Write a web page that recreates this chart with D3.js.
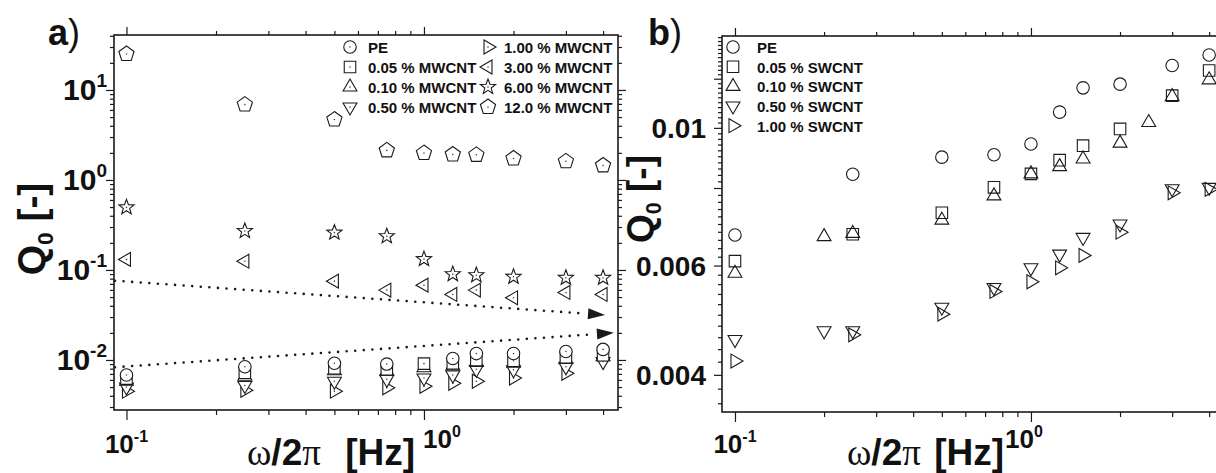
<!DOCTYPE html>
<html><head><meta charset="utf-8">
<script src="https://cdn.jsdelivr.net/npm/d3@7"></script>
<style>
html,body{margin:0;padding:0;background:#fff;}
svg{display:block;}
text{font-family:"Liberation Sans",Arial,sans-serif;font-weight:bold;fill:#111;}
.serif{font-family:"Liberation Serif","Times New Roman",serif;font-weight:normal;}
.reg{font-weight:normal;}
</style></head><body>
<svg id="chart" width="1216" height="473"></svg>
<script>
// ---------------- DATA ----------------
// Panel a) : PE / MWCNT composites
const freqA = [0.1, 0.25, 0.5, 0.75, 1, 1.25, 1.5, 2, 3, 4];
const namesA = ["PE", "0.05 % MWCNT", "0.10 % MWCNT", "0.50 % MWCNT",
                "1.00 % MWCNT", "3.00 % MWCNT", "6.00 % MWCNT", "12.0 % MWCNT"];
const peA      = [0.0068, 0.0084, 0.0092, 0.0090, null,   0.0104, 0.0118, 0.0118, 0.0124, 0.0131];
const mw005    = [0.0062, 0.0072, 0.0081, 0.0079, 0.0091, 0.0092, 0.0100, 0.0098, 0.0107, 0.0113];
const mw010    = [0.0058, 0.0066, 0.0076, 0.0075, 0.0082, 0.0086, 0.0094, 0.0092, 0.0101, 0.0109];
const mw050    = [0.0050, 0.0052, 0.0058, 0.0061, 0.0063, 0.0068, 0.0079, 0.0078, 0.0084, 0.0096];
const mw100    = [0.0045, 0.0046, 0.0045, 0.0049, 0.0051, 0.0055, 0.0058, 0.0063, 0.0071, null];
const mw300    = [0.131, 0.125, 0.0751, 0.0597, 0.0678, 0.0534, 0.0597, 0.0491, 0.0562, 0.0534];
const mw600    = [0.496, 0.271, 0.260, 0.237, 0.132, 0.0898, 0.0875, 0.0839, 0.0818, 0.0818];
const mw1200   = [25.1, 6.88, 4.69, 2.13, 1.99, 1.92, 1.90, 1.73, 1.61, 1.45];
// dotted trend arrows in panel a (start -> tip, data coords)
const arrowUpperX = [0.0915, 4.06], arrowUpperY = [0.076, 0.0316];
const arrowLowerX = [0.0915, 4.35], arrowLowerY = [0.0083, 0.0200];

// Panel b) : PE / SWCNT composites
const freqB = [0.1, 0.2, 0.25, 0.5, 0.75, 1, 1.25, 1.5, 2, 2.5, 3, 4];
const namesB = ["PE", "0.05 % SWCNT", "0.10 % SWCNT", "0.50 % SWCNT", "1.00 % SWCNT"];
const peB   = [0.00672, null,    0.00842, 0.00897, 0.00905, 0.00942, 0.0106, 0.0116, 0.01176, null,   0.0126, 0.0131];
const sw005 = [0.0061,  null,    0.00674, 0.0073,  0.00802, 0.00843, 0.00887, 0.00936, 0.00996, null,  0.01127, 0.01237];
const sw010 = [0.00583, 0.00668, 0.00676, 0.0071,  0.00777, 0.00843, 0.00866, 0.00891, 0.00945, 0.0102, 0.01123, 0.01195];
const sw050 = [0.00456, 0.00471, 0.00471, 0.00514, 0.00553, 0.00595, 0.00626, 0.00666, 0.0070,  null,  0.00798, 0.00802];
const sw100 = [0.00421, null,    0.00464, 0.00501, 0.00545, 0.00565, 0.00595, 0.00623, 0.00679, null,  0.00786, 0.00796];

// tick values
const xMajorTicks = [0.1, 1];
const xMinorTicks = [0.2, 0.3, 0.4, 0.5, 0.6, 0.7, 0.8, 0.9, 2, 3, 4];
const yMajorA = [0.01, 0.1, 1, 10];
const yLabelsA = ["-2", "-1", "0", "1"];
const yLabelsB = [0.004, 0.006, 0.01];
const yLabelTextB = ["0.004", "0.006", "0.01"];
const yMajorB = [0.004, 0.006, 0.008, 0.01, 0.012];

// ---------------- SYMBOLS ----------------
function poly(angles, radii) {
  return {draw(ctx, r) {
    angles.forEach((a, i) => {
      const rr = r * (radii ? radii[i] : 1);
      const px = rr * Math.cos(a * Math.PI / 180), py = rr * Math.sin(a * Math.PI / 180);
      if (i === 0) ctx.moveTo(px, py); else ctx.lineTo(px, py);
    });
    ctx.closePath();
  }};
}
const symCircle = {draw(ctx, r) { r = r * 0.78; ctx.moveTo(r, 0); ctx.arc(0, 0, r, 0, 2 * Math.PI); }};
const symSquare = {draw(ctx, r) { r = r * 0.72; ctx.rect(-r, -r, 2 * r, 2 * r); }};
const symUp = poly([-90, 30, 150]);
const symDown = poly([90, 210, 330]);
const symRight = poly([0, 120, 240]);
const symLeft = poly([180, 300, 60]);
const symPent = poly([-90, -18, 54, 126, 198]);
const starA = [], starR = [];
for (let i = 0; i < 10; i++) { starA.push(-90 + i * 36); starR.push(i % 2 ? 0.42 : 1); }
const symStar = poly(starA, starR);

const symbolsA = [symCircle, symSquare, symUp, symDown, symRight, symLeft, symStar, symPent];
const symbolsB = [symCircle, symSquare, symUp, symDown, symRight];
const R = 8;

const svg = d3.select("#chart");
const ink = "#1a1a1a";

// ---------------- SCALES ----------------
const xA = d3.scaleLog().domain([0.0908, 4.49]).range([114, 618]);
const yA = d3.scaleLog().domain([0.00278, 40.8]).range([410, 35]);
const xB = d3.scaleLog().domain([0.0904, 4.49]).range([722, 1224]);
const yB = d3.scaleLog().domain([0.003485, 0.01406]).range([412, 36]);

function styleAxis(g) {
  g.select(".domain").remove();
  g.selectAll("line").attr("stroke", ink).attr("stroke-width", 1.2);
}

function frameAxes(x, y, yMaj, yMin, drawRight) {
  const [x0, x1] = x.range(), [y0, y1] = y.range();
  const g = svg.append("g");
  g.append("g").attr("transform", `translate(0,${y0})`)
    .call(d3.axisBottom(x).tickValues(xMajorTicks).tickSize(10).tickFormat("")).call(styleAxis);
  g.append("g").attr("transform", `translate(0,${y0})`)
    .call(d3.axisBottom(x).tickValues(xMinorTicks).tickSize(5).tickFormat("")).call(styleAxis);
  g.append("g").attr("transform", `translate(0,${y1})`)
    .call(d3.axisTop(x).tickValues(xMajorTicks).tickSize(8).tickFormat("")).call(styleAxis);
  g.append("g").attr("transform", `translate(0,${y1})`)
    .call(d3.axisTop(x).tickValues(xMinorTicks).tickSize(4).tickFormat("")).call(styleAxis);
  g.append("g").attr("transform", `translate(${x0},0)`)
    .call(d3.axisLeft(y).tickValues(yMaj).tickSize(8).tickFormat("")).call(styleAxis);
  g.append("g").attr("transform", `translate(${x0},0)`)
    .call(d3.axisLeft(y).tickValues(yMin).tickSize(4).tickFormat("")).call(styleAxis);
  if (drawRight) {
    g.append("g").attr("transform", `translate(${x1},0)`)
      .call(d3.axisRight(y).tickValues(yMaj).tickSize(8).tickFormat("")).call(styleAxis);
    g.append("g").attr("transform", `translate(${x1},0)`)
      .call(d3.axisRight(y).tickValues(yMin).tickSize(4).tickFormat("")).call(styleAxis);
  }
  g.append("rect").attr("x", x0).attr("y", y1).attr("width", x1 - x0).attr("height", y0 - y1)
    .attr("fill", "none").attr("stroke", ink).attr("stroke-width", 1.6);
}

const yMinorA = [];
[0.001, 0.01, 0.1, 1, 10].forEach(d => { for (let k = 2; k <= 9; k++) { const v = d * k; if (v > 0.00278 && v < 40.8) yMinorA.push(v); } });
const yMinorB = d3.range(36, 141, 2).map(v => v / 10000).filter(v => v > 0.003485 && v < 0.01406 && !yMajorB.some(m => Math.abs(m - v) < 1e-9));

frameAxes(xA, yA, yMajorA, yMinorA, true);
frameAxes(xB, yB, yMajorB, yMinorB, false);

// ---------------- TICK LABELS ----------------
function powLabel(x, y, exp, anchor, size, supSize, supDy) {
  const t = svg.append("text").attr("x", x).attr("y", y).attr("text-anchor", anchor).attr("font-size", size);
  t.append("tspan").text("10");
  t.append("tspan").attr("font-size", supSize).attr("dy", supDy).text(exp);
}
yMajorA.forEach((v, i) => powLabel(107, yA(v) + 10.5, yLabelsA[i], "end", 30, 19, -13));
powLabel(xA(0.1), 453, "-1", "middle", 26, 16, -11);
powLabel(xA(1) + 18, 448, "0", "middle", 26, 16, -11);
powLabel(xB(0.1), 453, "-1", "middle", 26, 16, -11);
powLabel(xB(1) - 7, 448, "0", "middle", 26, 16, -11);
yLabelsB.forEach((v, i) => svg.append("text").attr("x", 706).attr("y", yB(v) + 10)
  .attr("text-anchor", "end").attr("font-size", 28).text(yLabelTextB[i]));

// ---------------- TITLES ----------------
function xTitle(x, extra) {
  const t = svg.append("text").attr("x", x).attr("y", 465).attr("font-size", 37);
  t.append("tspan").attr("class", "serif").text("ω");
  t.append("tspan").text("/2");
  t.append("tspan").attr("class", "serif").text("π");
  t.append("tspan").attr("dx", extra).text(" [Hz]");
}
xTitle(247, 14);
xTitle(847, 3);

function yTitle(x, y, size) {
  const t = svg.append("text").attr("transform", `translate(${x},${y}) rotate(-90)`)
    .attr("text-anchor", "middle").attr("font-size", size);
  t.append("tspan").text("Q");
  t.append("tspan").attr("font-size", size * 0.58).attr("dy", 8).text("0");
  t.append("tspan").attr("dy", -8).text(" [-]");
}
yTitle(45, 229, 39);
yTitle(653, 199, 37);

function panelLabel(x, ch) {
  const t = svg.append("text").attr("x", x).attr("y", 45).attr("font-size", 36);
  t.append("tspan").text(ch);
  t.append("tspan").attr("class", "reg").text(")");
}
panelLabel(48, "a");
panelLabel(648, "b");

// ---------------- DATA MARKS ----------------
const seriesA = [peA, mw005, mw010, mw050, mw100, mw300, mw600, mw1200];
const seriesB = [peB, sw005, sw010, sw050, sw100];

function drawMarker(g, px, py, type, fill, dot) {
  g.append("path").attr("transform", `translate(${px},${py})`)
    .attr("d", d3.symbol().type(type).size(R)())
    .attr("fill", fill).attr("stroke", ink).attr("stroke-width", 1.1);
  if (dot) g.append("circle").attr("cx", px).attr("cy", py).attr("r", 0.8).attr("fill", "#444");
}

function arrow(xs, ys) {
  const p0 = [xA(xs[0]), yA(ys[0])], p1 = [xA(xs[1]), yA(ys[1])];
  const dx = p1[0] - p0[0], dy = p1[1] - p0[1], L = Math.hypot(dx, dy);
  const u = [dx / L, dy / L], n = [-u[1], u[0]];
  const hl = 17, hw = 5.5;
  const b = [p1[0] - u[0] * hl, p1[1] - u[1] * hl];
  svg.append("line").attr("x1", p0[0]).attr("y1", p0[1]).attr("x2", b[0] - u[0] * 3).attr("y2", b[1] - u[1] * 3)
    .attr("stroke", ink).attr("stroke-width", 2.6).attr("stroke-linecap", "round")
    .attr("stroke-dasharray", "0 8.6");
  svg.append("path").attr("d", `M${p1[0]},${p1[1]}L${b[0] + n[0] * hw},${b[1] + n[1] * hw}L${b[0] - n[0] * hw},${b[1] - n[1] * hw}Z`)
    .attr("fill", ink);
}
arrow(arrowUpperX, arrowUpperY);
arrow(arrowLowerX, arrowLowerY);

const gA = svg.append("g");
for (let s = seriesA.length - 1; s >= 0; s--) {
  seriesA[s].forEach((v, i) => {
    if (v == null) return;
    drawMarker(gA, xA(freqA[i]), yA(v), symbolsA[s], "#fff", true);
  });
}
const gB = svg.append("g");
seriesB.forEach((ser, s) => ser.forEach((v, i) => {
  if (v == null) return;
  drawMarker(gB, xB(freqB[i]), yB(v), symbolsB[s], "none", false);
}));

// ---------------- LEGENDS ----------------
const legBaseA = [53, 73, 93, 113];
namesA.forEach((nm, i) => {
  const col = i < 4 ? 0 : 1, row = i % 4;
  const sx = col ? 488 : 350, tx = col ? 504 : 368;
  drawMarker(svg, sx, legBaseA[row] - 6, symbolsA[i], "#fff", true);
  svg.append("text").attr("x", tx).attr("y", legBaseA[row]).attr("font-size", 15).text(nm);
});
const legBaseB = [53, 72.7, 92.4, 112, 131.7];
namesB.forEach((nm, i) => {
  drawMarker(svg, 733, legBaseB[i] - 6, symbolsB[i], "#fff", false);
  svg.append("text").attr("x", 757).attr("y", legBaseB[i]).attr("font-size", 15).text(nm);
});
</script>
</body></html>
